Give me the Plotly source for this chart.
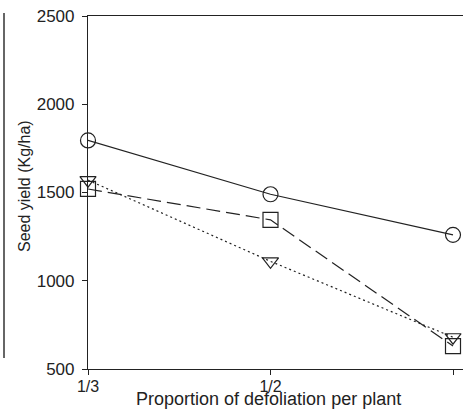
import plotly.graph_objects as go

categories = ["1/3", "1/2", "2/3"]
x_vals = [1/3, 1/2, 2/3]
circle_vals = [1795, 1490, 1260]
square_vals = [1520, 1345, 630]
triangle_vals = [1570, 1110, 680]
y_ticks = [500, 1000, 1500, 2000, 2500]

fig = go.Figure()
fig.add_trace(go.Scatter(x=x_vals, y=circle_vals, mode="lines+markers",
                         line=dict(color="#222", width=1.2, dash="solid"),
                         marker=dict(symbol="circle-open", size=15, color="#222", line=dict(width=1.2)),
                         cliponaxis=False, showlegend=False))
fig.add_trace(go.Scatter(x=x_vals, y=square_vals, mode="lines+markers",
                         line=dict(color="#222", width=1.2, dash="14px,6px"),
                         marker=dict(symbol="square-open", size=15, color="#222", line=dict(width=1.2)),
                         cliponaxis=False, showlegend=False))
fig.add_trace(go.Scatter(x=x_vals, y=triangle_vals, mode="lines+markers",
                         line=dict(color="#222", width=1.2, dash="2px,3px"),
                         marker=dict(symbol="triangle-down-open", size=14, color="#222", line=dict(width=1.2)),
                         cliponaxis=False, showlegend=False))

L, T, B = 88, 16, 43
W, H = 463, 412
pw, ph = W - L, H - T - B
span = x_vals[2] - x_vals[0]
fig.update_layout(
    width=W, height=H,
    margin=dict(l=L, r=0, t=T, b=B, autoexpand=False),
    paper_bgcolor="white", plot_bgcolor="white",
    font=dict(family="Liberation Sans, Arial, sans-serif", size=16, color="#222"),
    xaxis=dict(range=[x_vals[0], x_vals[2] + span * 10 / 365], automargin=False,
               tickvals=x_vals, ticktext=categories,
               showline=True, linecolor="#222", linewidth=1.2, mirror=True,
               ticks="outside", ticklen=5, tickcolor="#222", showgrid=False, zeroline=False,
               ticklabelstandoff=-2, tickfont=dict(size=16)),
    yaxis=dict(range=[500, 2500], tickvals=y_ticks, automargin=False,
               showline=True, linecolor="#222", linewidth=1.2,
               ticks="outside", ticklen=5, tickcolor="#222", showgrid=False, zeroline=False,
               ticklabelstandoff=4, tickfont=dict(size=17)),
)
fig.add_annotation(text="Proportion of defoliation per plant", xref="paper", yref="paper",
                   x=(268 - L) / pw, y=-((399 - (H - B)) / ph),
                   xanchor="center", yanchor="middle", showarrow=False,
                   font=dict(size=18, color="#222"))
fig.add_annotation(text="Seed yield (Kg/ha)", xref="paper", yref="paper",
                   x=(25 - L) / pw, y=((H - B) - 186) / ph, textangle=-90,
                   xanchor="center", yanchor="middle", showarrow=False,
                   font=dict(size=16, color="#222"))
fig.add_shape(type="line", xref="paper", yref="paper",
              x0=(4 - L) / pw, x1=(4 - L) / pw,
              y0=((H - B) - 13) / ph, y1=((H - B) - 358) / ph,
              line=dict(color="#333", width=1.5))
fig.write_html("out.html", config={"displayModeBar": False},
               post_script="document.body.style.margin='0';document.body.style.overflow='hidden';")
